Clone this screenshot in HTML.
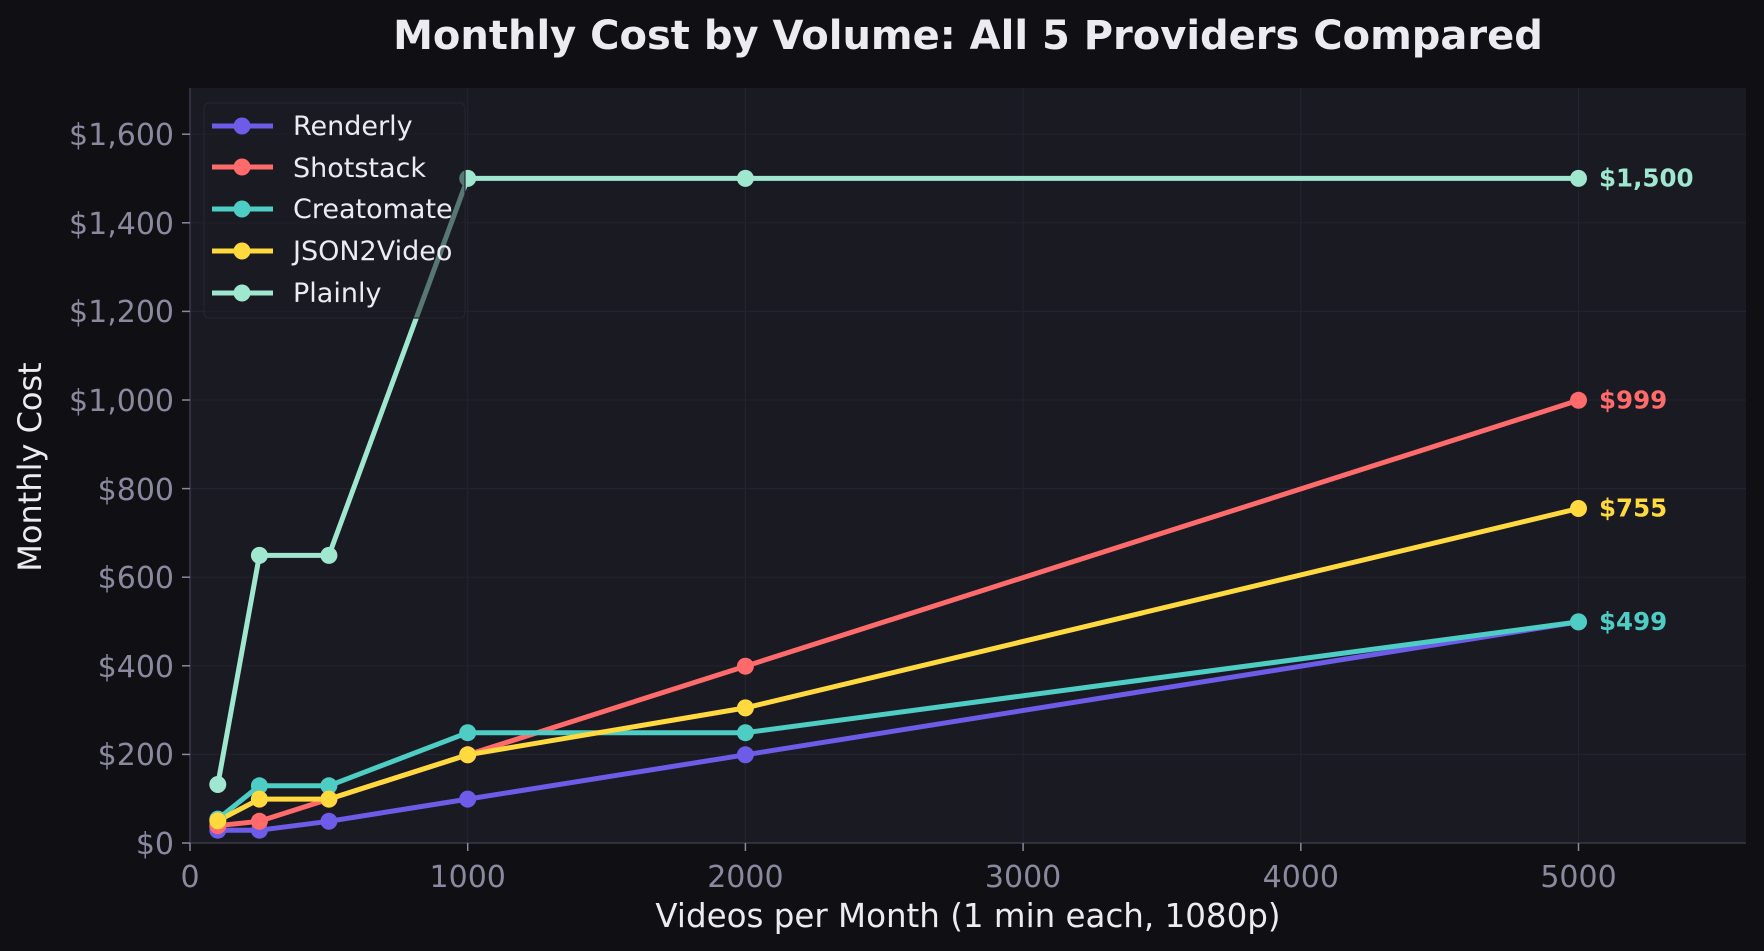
<!DOCTYPE html>
<html><head><meta charset="utf-8"><style>
html,body{margin:0;padding:0;background:#0f0f14;}
svg{display:block;font-family:"DejaVu Sans","Liberation Sans",sans-serif;}
</style></head><body>
<svg width="1764" height="951" viewBox="0 0 1764 951" xmlns="http://www.w3.org/2000/svg">
<rect width="1764" height="951" fill="#0f0f14"/>
<text x="968" y="49" text-anchor="middle" font-size="40" font-weight="bold" fill="#ecebf2">Monthly Cost by Volume: All 5 Providers Compared</text>
<rect x="190" y="88" width="1556" height="755" fill="#1a1a23"/>
<g stroke="#23232e" stroke-width="1.2">
<line x1="190" x2="1746" y1="754.4" y2="754.4"/><line x1="190" x2="1746" y1="665.8" y2="665.8"/>
<line x1="190" x2="1746" y1="577.2" y2="577.2"/><line x1="190" x2="1746" y1="488.6" y2="488.6"/>
<line x1="190" x2="1746" y1="400" y2="400"/><line x1="190" x2="1746" y1="311.4" y2="311.4"/>
<line x1="190" x2="1746" y1="222.8" y2="222.8"/><line x1="190" x2="1746" y1="134.2" y2="134.2"/>
<line y1="88" y2="843" x1="467.7" x2="467.7"/><line y1="88" y2="843" x1="745.4" x2="745.4"/>
<line y1="88" y2="843" x1="1023.1" x2="1023.1"/><line y1="88" y2="843" x1="1300.8" x2="1300.8"/>
<line y1="88" y2="843" x1="1578.5" x2="1578.5"/>
</g>
<g stroke="#3a3a4a" stroke-width="1.5"><line x1="190" y1="88" x2="190" y2="843"/><line x1="190" y1="843" x2="1746" y2="843"/></g>
<g stroke="#8a899e" stroke-width="1.5">
<line x1="182" x2="190" y1="843" y2="843"/><line x1="182" x2="190" y1="754.4" y2="754.4"/><line x1="182" x2="190" y1="665.8" y2="665.8"/><line x1="182" x2="190" y1="577.2" y2="577.2"/><line x1="182" x2="190" y1="488.6" y2="488.6"/><line x1="182" x2="190" y1="400" y2="400"/><line x1="182" x2="190" y1="311.4" y2="311.4"/><line x1="182" x2="190" y1="222.8" y2="222.8"/><line x1="182" x2="190" y1="134.2" y2="134.2"/>
<line y1="843" y2="851" x1="190" x2="190"/><line y1="843" y2="851" x1="467.7" x2="467.7"/><line y1="843" y2="851" x1="745.4" x2="745.4"/><line y1="843" y2="851" x1="1023.1" x2="1023.1"/><line y1="843" y2="851" x1="1300.8" x2="1300.8"/><line y1="843" y2="851" x1="1578.5" x2="1578.5"/>
</g>
<g fill="#8a899e" font-size="30" text-anchor="end">
<text x="174" y="854">$0</text><text x="174" y="765">$200</text><text x="174" y="677">$400</text><text x="174" y="588">$600</text><text x="174" y="500">$800</text><text x="174" y="411">$1,000</text><text x="174" y="322">$1,200</text><text x="174" y="234">$1,400</text><text x="174" y="145">$1,600</text>
</g>
<g fill="#8a899e" font-size="30" text-anchor="middle">
<text x="190" y="887">0</text><text x="467.7" y="887">1000</text><text x="745.4" y="887">2000</text><text x="1023.1" y="887">3000</text><text x="1300.8" y="887">4000</text><text x="1578.5" y="887">5000</text>
</g>
<text x="968" y="927" text-anchor="middle" font-size="32.5" fill="#ecebf2">Videos per Month (1 min each, 1080p)</text>
<text transform="translate(41,467) rotate(-90)" text-anchor="middle" font-size="32" fill="#ecebf2">Monthly Cost</text>
<g fill="none" stroke-width="5" stroke-linejoin="round">
<polyline stroke="#6c5ce7" points="217.8,830.2 259.4,830.2 328.9,821.3 467.7,799.1 745.4,754.8 1578.5,621.9"/>
<polyline stroke="#ff6b6b" points="217.8,825.7 259.4,821.3 328.9,799.1 467.7,754.8 745.4,666.2 1578.5,400.3"/>
<polyline stroke="#4ecdc4" points="217.8,819.1 259.4,785.8 328.9,785.8 467.7,732.7 745.4,732.7 1578.5,621.9"/>
<polyline stroke="#ffd93d" points="217.8,820.8 259.4,799.1 328.9,799.1 467.7,754.8 745.4,707.9 1578.5,508.5"/>
<polyline stroke="#a0e7d0" points="217.8,784.5 259.4,555.4 328.9,555.4 467.7,178.4 745.4,178.4 1578.5,178.4"/>
</g>
<g fill="#6c5ce7"><circle cx="217.8" cy="830.2" r="8.5"/><circle cx="259.4" cy="830.2" r="8.5"/><circle cx="328.9" cy="821.3" r="8.5"/><circle cx="467.7" cy="799.1" r="8.5"/><circle cx="745.4" cy="754.8" r="8.5"/><circle cx="1578.5" cy="621.9" r="8.5"/></g>
<g fill="#ff6b6b"><circle cx="217.8" cy="825.7" r="8.5"/><circle cx="259.4" cy="821.3" r="8.5"/><circle cx="328.9" cy="799.1" r="8.5"/><circle cx="467.7" cy="754.8" r="8.5"/><circle cx="745.4" cy="666.2" r="8.5"/><circle cx="1578.5" cy="400.3" r="8.5"/></g>
<g fill="#4ecdc4"><circle cx="217.8" cy="819.1" r="8.5"/><circle cx="259.4" cy="785.8" r="8.5"/><circle cx="328.9" cy="785.8" r="8.5"/><circle cx="467.7" cy="732.7" r="8.5"/><circle cx="745.4" cy="732.7" r="8.5"/><circle cx="1578.5" cy="621.9" r="8.5"/></g>
<g fill="#ffd93d"><circle cx="217.8" cy="820.8" r="8.5"/><circle cx="259.4" cy="799.1" r="8.5"/><circle cx="328.9" cy="799.1" r="8.5"/><circle cx="467.7" cy="754.8" r="8.5"/><circle cx="745.4" cy="707.9" r="8.5"/><circle cx="1578.5" cy="508.5" r="8.5"/></g>
<g fill="#a0e7d0"><circle cx="217.8" cy="784.5" r="8.5"/><circle cx="259.4" cy="555.4" r="8.5"/><circle cx="328.9" cy="555.4" r="8.5"/><circle cx="467.7" cy="178.4" r="8.5"/><circle cx="745.4" cy="178.4" r="8.5"/><circle cx="1578.5" cy="178.4" r="8.5"/></g>
<g font-size="24.5" font-weight="bold">
<text x="1599" y="186.5" fill="#a0e7d0">$1,500</text>
<text x="1599" y="408.5" fill="#ff6b6b">$999</text>
<text x="1599" y="516.5" fill="#ffd93d">$755</text>
<text x="1599" y="630" fill="#4ecdc4">$499</text>
</g>
<rect x="204" y="103" width="261" height="215" rx="5" fill="#1b1b24" fill-opacity="0.55" stroke="#24242f" stroke-width="1.2"/>
<g stroke-width="5">
<line x1="212" x2="273" y1="126" y2="126" stroke="#6c5ce7"/><circle cx="242" cy="126" r="8.5" fill="#6c5ce7"/>
<line x1="212" x2="273" y1="167" y2="167" stroke="#ff6b6b"/><circle cx="242" cy="167" r="8.5" fill="#ff6b6b"/>
<line x1="212" x2="273" y1="209" y2="209" stroke="#4ecdc4"/><circle cx="242" cy="209" r="8.5" fill="#4ecdc4"/>
<line x1="212" x2="273" y1="251" y2="251" stroke="#ffd93d"/><circle cx="242" cy="251" r="8.5" fill="#ffd93d"/>
<line x1="212" x2="273" y1="293" y2="293" stroke="#a0e7d0"/><circle cx="242" cy="293" r="8.5" fill="#a0e7d0"/>
</g>
<g font-size="27" fill="#ecebf2">
<text x="293" y="135">Renderly</text><text x="293" y="177">Shotstack</text><text x="293" y="218">Creatomate</text><text x="293" y="260">JSON2Video</text><text x="293" y="302">Plainly</text>
</g>
</svg>
</body></html>
